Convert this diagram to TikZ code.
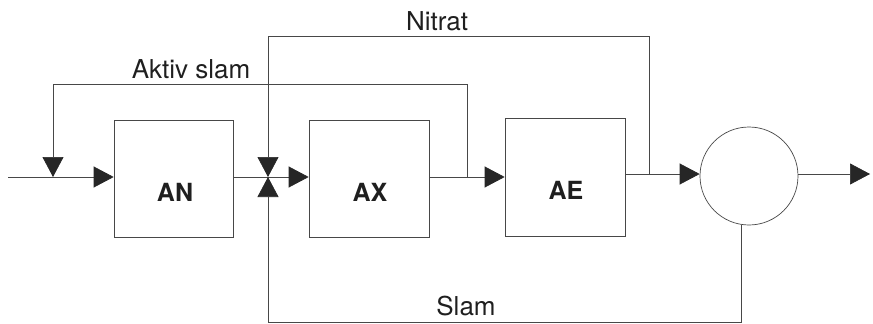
\documentclass[tikz,border=0pt]{standalone}
\usepackage{fontspec}
\setmainfont{TeX Gyre Heros}
\usetikzlibrary{arrows.meta}
\begin{document}
\begin{tikzpicture}[x=1pt,y=-1pt,
  line/.style={draw=black!72, line width=0.7pt},
  box/.style={draw=black!72, line width=0.7pt, inner sep=0pt},
  tip/.style={-{Triangle[length=20pt,width=21pt,color=black!85,fill=black!85]}},
  lbl/.style={font=\fontsize{26}{30}\selectfont, text=black!88},
  blbl/.style={font=\fontsize{25}{30}\selectfont\bfseries, text=black!88}
]
\useasboundingbox (0,0) rectangle (873,324);

% process units
\node[box, minimum width=119pt, minimum height=117pt,
      label={[blbl, yshift=-13pt, xshift=1.5pt]center:AN}] (AN) at (173.5,179) {};
\node[box, minimum width=120pt, minimum height=117pt,
      label={[blbl, yshift=-13.5pt, xshift=1pt]center:AX}] (AX) at (369,178.5) {};
\node[box, minimum width=120pt, minimum height=118pt,
      label={[blbl, yshift=-13pt, xshift=1pt]center:AE}] (AE) at (565,177) {};
\node[circle, draw=black!72, line width=0.7pt, minimum size=98pt, inner sep=0pt] (S) at (749,176) {};

% junction points
\coordinate (in) at (8,177);
\coordinate (ja) at (53,177);
\coordinate (J) at (268,177);
\coordinate (jx) at (467,177);
\coordinate (je) at (649,174);
\coordinate (out) at (870,174);
\coordinate (sl) at (268,322);

% main line
\draw[line] (in) -- (ja);
\draw[line,tip] (ja) -- (AN.west |- ja);
\draw[line] (AN.east |- J) -- (J);
\draw[line,tip] (J) -- (AX.west |- J);
\draw[line] (AX.east |- jx) -- (jx);
\draw[line,tip] (jx) -- (AE.west |- jx);
\draw[line] (AE.east |- je) -- (je);
\draw[line,tip] (je) -- (S.west |- je);
\draw[line,tip] (S.east |- out) -- (out);

% recycles
\draw[line,tip] (je) -- ++(0,-138) -| (J);
\draw[line,tip] (jx) -- ++(0,-93) -| (ja);
\draw[line,tip] (S.-99) |- (sl) -- (J);

% labels
\node[lbl] (nitrat) at (437,21) {Nitrat};
\node[lbl] (aktiv) at (191,69) {Aktiv slam};
\node[lbl] (slam) at (466,306) {Slam};
\end{tikzpicture}
\end{document}
